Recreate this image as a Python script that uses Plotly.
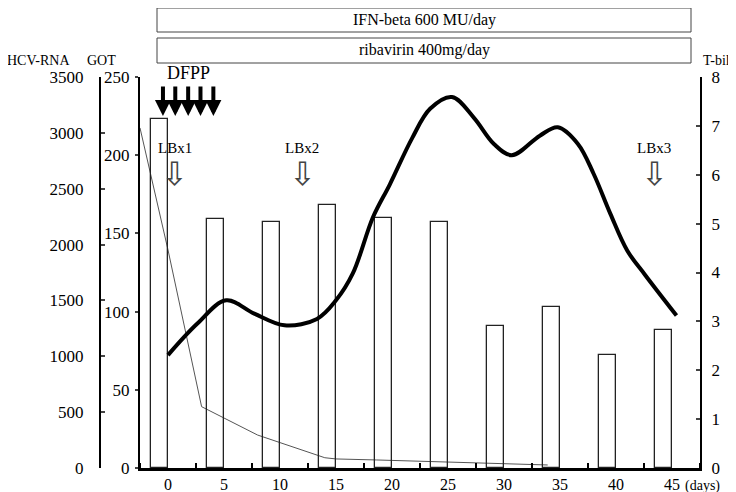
import plotly.graph_objects as go

# ---- data ----
day_ticks = [0, 5, 10, 15, 20, 25, 30, 35, 40, 45]
got_days = [-0.75, 4.25, 9.25, 14.25, 19.25, 24.25, 29.25, 34.25, 39.25, 44.25]
got_vals = [223, 159, 157, 168, 160, 157, 91, 103, 72, 88]

hcv_days = [-2.5, 0, 3, 8, 14, 15, 18.6, 23.7, 28.8, 33.9]
hcv_vals = [3044, 1952, 549, 295, 92, 81, 72, 56, 45, 27]

tbil_days = [0, 2.6, 5.2, 7.7, 10.4, 13.3, 15, 16.5, 18.3, 19.8, 21.8, 23.4,
             25.35, 27.3, 29.1, 30.7, 33.2, 34.8, 36.6, 38.0, 39.5, 41.0, 42.6, 45.4]
tbil_vals = [2.31, 2.95, 3.43, 3.16, 2.92, 3.05, 3.43, 3.98, 5.13, 5.8, 6.75, 7.35,
             7.59, 7.17, 6.63, 6.40, 6.80, 6.97, 6.63, 6.02, 5.20, 4.45, 3.95, 3.12]

dfpp_days = [-0.45, 0.65, 1.8, 2.9, 4.05]
lbx_days = [0.6, 12.0, 43.4]
lbx_labels = ["LBx1", "LBx2", "LBx3"]

SERIF = "Liberation Serif, Times New Roman, serif"

fig = go.Figure()

fig.add_trace(go.Bar(
    x=got_days, y=got_vals, width=1.5, yaxis="y2",
    marker=dict(color="rgba(0,0,0,0)", line=dict(color="#222222", width=1.3)),
    showlegend=False))

fig.add_trace(go.Scatter(
    x=hcv_days, y=hcv_vals, mode="lines", yaxis="y",
    line=dict(color="#555555", width=1), showlegend=False))

fig.add_trace(go.Scatter(
    x=tbil_days, y=tbil_vals, mode="lines", yaxis="y3",
    line=dict(color="black", width=4, shape="spline", smoothing=1.0), showlegend=False))

# page pixel -> paper coords (page body has an 8px margin; figure is 728x484)
def py(px):
    return (468 - px) / 391.0

def pxx(px):
    return (px - 100) / 600.0

C = dict(xanchor="center", yanchor="middle", showarrow=False)

ann = []
ann.append(dict(text="HCV-RNA", x=pxx(38), y=py(60), xref="paper", yref="paper",
                font=dict(family=SERIF, size=14), **C))
ann.append(dict(text="GOT", x=pxx(101), y=py(60), xref="paper", yref="paper",
                font=dict(family=SERIF, size=14), **C))
ann.append(dict(text="T-bil", x=pxx(716), y=py(60), xref="paper", yref="paper",
                font=dict(family=SERIF, size=14), **C))
ann.append(dict(text="(days)", x=pxx(702), y=py(486), xref="paper", yref="paper",
                font=dict(family=SERIF, size=14), **C))
ann.append(dict(text="IFN-beta 600 MU/day", x=pxx(424), y=py(20), xref="paper", yref="paper",
                font=dict(family=SERIF, size=16), **C))
ann.append(dict(text="ribavirin 400mg/day", x=pxx(424), y=py(50), xref="paper", yref="paper",
                font=dict(family=SERIF, size=16), **C))
ann.append(dict(text="DFPP", x=1.8, y=py(73), xref="x", yref="paper",
                font=dict(family=SERIF, size=18), **C))
for d in dfpp_days:
    ann.append(dict(text="", x=d, y=py(116), xref="x", yref="paper", ax=0, ay=-31,
                    showarrow=True, arrowhead=2, arrowwidth=4, arrowsize=0.8, arrowcolor="black"))
for d, t in zip(lbx_days, lbx_labels):
    ann.append(dict(text=t, x=d, y=py(148), xref="x", yref="paper",
                    font=dict(family=SERIF, size=15), **C))
    ann.append(dict(text="⇩", x=d, y=py(174), xref="x", yref="paper",
                    font=dict(family="DejaVu Sans", size=32, color="#444444"), **C))

shapes = [
    dict(type="rect", xref="paper", yref="paper", x0=pxx(157), x1=pxx(691), y0=py(32), y1=py(8),
         line=dict(color="#444444", width=1)),
    dict(type="rect", xref="paper", yref="paper", x0=pxx(157), x1=pxx(691), y0=py(63), y1=py(38),
         line=dict(color="#444444", width=1)),
]

fig.update_layout(
    width=728, height=484,
    margin=dict(l=92, r=36, t=69, b=24, autoexpand=False),
    paper_bgcolor="white", plot_bgcolor="white",
    font=dict(family=SERIF, size=17, color="black"),
    bargap=0,
    xaxis=dict(domain=[40 / 600, 1], range=[-2.5, 47.5], tickvals=day_ticks, ticks="",
               showline=True, linewidth=2.5, linecolor="black", showgrid=False, zeroline=False,
               automargin=False, tickfont=dict(family=SERIF, size=16),
               minor=dict(tick0=2.5, dtick=5, ticks="inside", ticklen=5, tickwidth=2, tickcolor="black")),
    yaxis=dict(anchor="free", position=0, range=[0, 3500], dtick=500, ticks="inside", ticklen=4,
               tickwidth=2, showline=True, linewidth=2, linecolor="black", showgrid=False,
               zeroline=False, automargin=False, ticklabelstandoff=12,
               tickfont=dict(family=SERIF, size=17)),
    yaxis2=dict(overlaying="y", anchor="x", side="left", range=[0, 250], dtick=50, ticks="outside",
                ticklen=3, tickwidth=2, showline=True, linewidth=2, linecolor="black", showgrid=False,
                zeroline=False, automargin=False, ticklabelstandoff=2,
                tickfont=dict(family=SERIF, size=17)),
    yaxis3=dict(overlaying="y", anchor="x", side="right", range=[0, 8], dtick=1, ticks="inside",
                ticklen=4, tickwidth=2, showline=True, linewidth=2, linecolor="black", showgrid=False,
                zeroline=False, automargin=False, ticklabelstandoff=6,
                tickfont=dict(family=SERIF, size=17)),
    annotations=ann,
    shapes=shapes,
)

fig.write_html("out.html")
